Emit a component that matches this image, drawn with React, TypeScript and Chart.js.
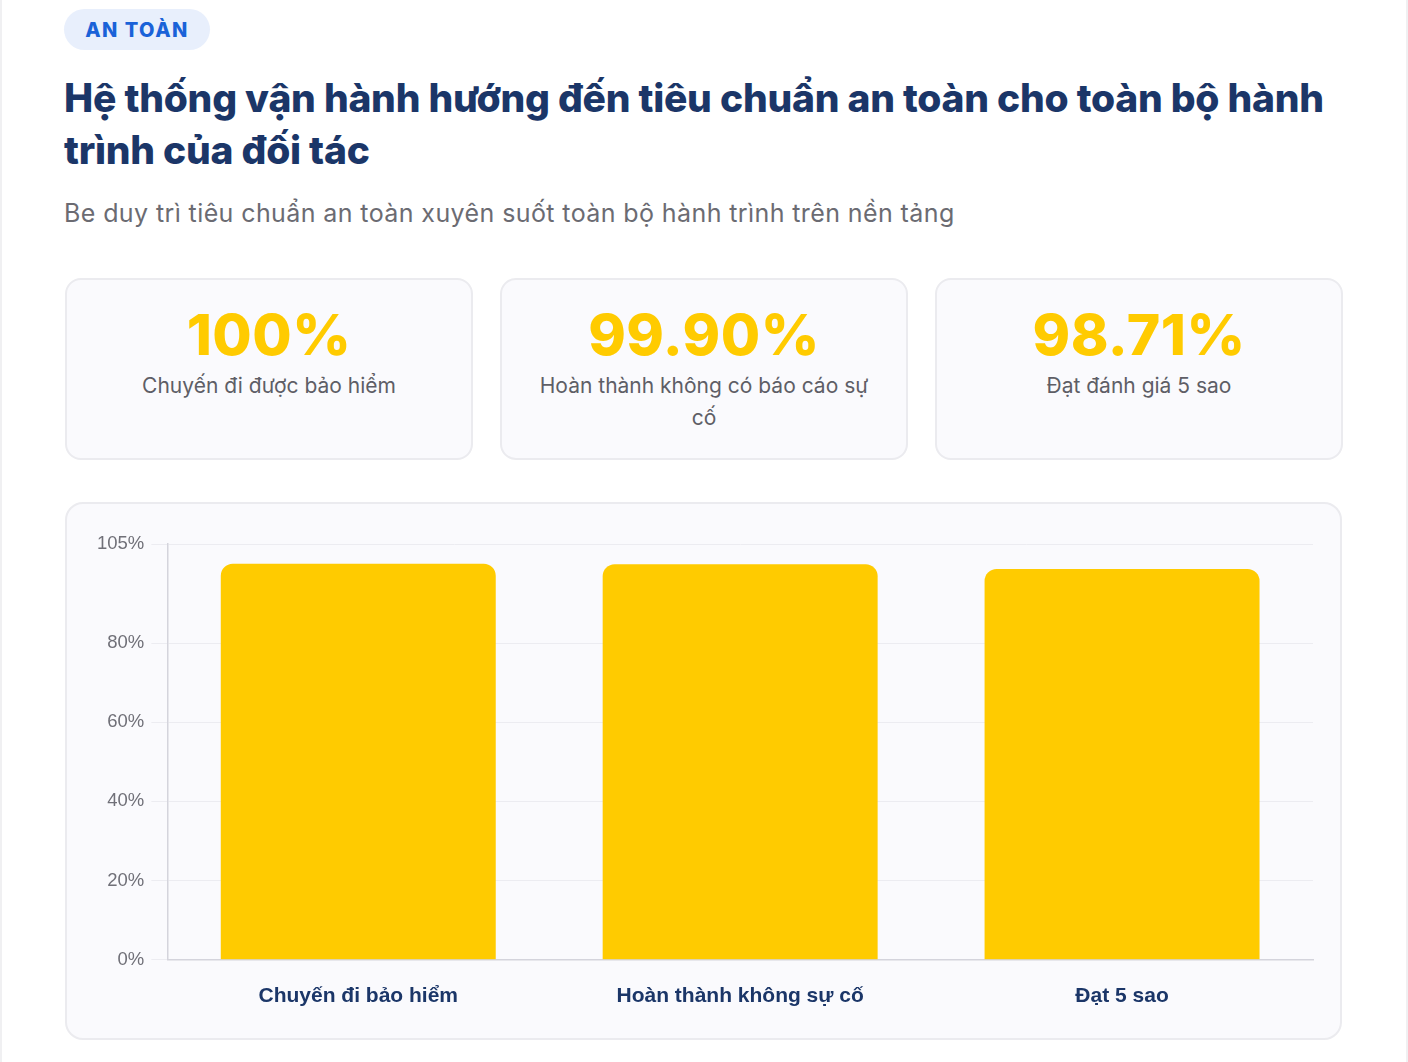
import React, { useEffect, useRef } from "react";
import { Chart, registerables } from "chart.js";

Chart.register(...registerables);

const badgeText = "AN TOÀN";
const titleLine1 = "Hệ thống vận hành hướng đến tiêu chuẩn an toàn cho toàn bộ hành";
const titleLine2 = "trình của đối tác";
const subtitle = "Be duy trì tiêu chuẩn an toàn xuyên suốt toàn bộ hành trình trên nền tảng";

const statValues = ["100%", "99.90%", "98.71%"];
const statLabels = ["Chuyến đi được bảo hiểm", "Hoàn thành không có báo cáo sự cố", "Đạt đánh giá 5 sao"];

const categories = ["Chuyến đi bảo hiểm", "Hoàn thành không sự cố", "Đạt 5 sao"];
const values = [100, 99.9, 98.71];
const yMin = 0;
const yMax = 105;
const yStep = 20;

const YELLOW = "#FFCB00";
const NAVY = "#1B3668";

function BarChart() {
  const ref = useRef<HTMLCanvasElement | null>(null);
  useEffect(() => {
    if (!ref.current) return;
    const chart = new Chart(ref.current, {
      type: "bar",
      data: {
        labels: categories,
        datasets: [
          {
            data: values,
            backgroundColor: YELLOW,
            borderRadius: { topLeft: 12, topRight: 12, bottomLeft: 0, bottomRight: 0 },
            borderSkipped: false,
          },
        ],
      },
      options: {
        animation: false,
        responsive: true,
        maintainAspectRatio: false,
        layout: { padding: { left: 23, top: 40, right: 27, bottom: 13 } },
        plugins: { legend: { display: false }, tooltip: { enabled: false } },
        scales: {
          x: {
            grid: { display: false },
            border: { display: true, color: "#d4d4dc", width: 1.5 },
            ticks: {
              color: NAVY,
              padding: 16,
              font: { family: "'Liberation Sans', Arial, sans-serif", size: 21, weight: "bold" },
            },
          },
          y: {
            min: yMin,
            max: yMax,
            ticks: {
              stepSize: yStep,
              color: "#707078",
              padding: 7,
              font: { family: "'Liberation Sans', Arial, sans-serif", size: 18.5 },
              callback: (v: any) => v + "%",
            },
            grid: { color: "#ececf1", tickLength: 16, lineWidth: 1 },
            border: { display: true, color: "#d4d4dc", width: 1.5 },
          },
        },
      },
    });
    return () => chart.destroy();
  }, []);
  return <canvas ref={ref} />;
}

export default function App() {
  useEffect(() => {
    document.body.style.margin = "0";
    document.body.style.background = "#ffffff";
  }, []);
  const font = "'Inter', 'Noto Sans', sans-serif";
  const cardStyle: React.CSSProperties = {
    position: "absolute",
    top: 278,
    width: 404,
    height: 178,
    border: "2px solid #ebebef",
    borderRadius: 16,
    background: "#fafafd",
    boxSizing: "content-box",
    textAlign: "center",
  };
  const lefts = [65, 500, 935];
  return (
    <div style={{ position: "relative", width: 1408, height: 1062, fontFamily: font, background: "#fff", boxShadow: "inset 2px 0 0 #f0f0f2, inset -2px 0 0 #f0f0f2" }}>
      <div
        style={{
          position: "absolute",
          left: 64,
          top: 9,
          width: 146,
          height: 41,
          borderRadius: 21,
          background: "#e8effc",
          color: "#1a62d8",
          fontWeight: 800,
          fontSize: 20,
          letterSpacing: 1.5,
          display: "flex",
          alignItems: "center",
          justifyContent: "center",
        }}
      >
        {badgeText}
      </div>
      <div
        style={{
          position: "absolute",
          left: 64,
          top: 72,
          width: 1320,
          color: NAVY,
          fontWeight: 800,
          fontSize: 39,
          lineHeight: "52px",
          letterSpacing: -0.25,
          whiteSpace: "nowrap",
        }}
      >
        {titleLine1}
        <br />
        {titleLine2}
      </div>
      <div style={{ position: "absolute", left: 64, top: 196, color: "#6b6b72", fontSize: 25, lineHeight: "34px", letterSpacing: 0.4, whiteSpace: "nowrap" }}>
        {subtitle}
      </div>
      {statValues.map((v, i) => (
        <div key={i} style={{ ...cardStyle, left: lefts[i] }}>
          <div style={{ marginTop: 22, color: YELLOW, fontWeight: 800, fontSize: 57, lineHeight: "66px", letterSpacing: 0.5 }}>{v}</div>
          <div style={{ margin: "2px auto 0", width: 350, color: "#5e5e66", fontSize: 21, lineHeight: "32px" }}>{statLabels[i]}</div>
        </div>
      ))}
      <div
        style={{
          position: "absolute",
          left: 65,
          top: 502,
          width: 1273,
          height: 534,
          border: "2px solid #ebebef",
          borderRadius: 18,
          background: "#fafafd",
        }}
      >
        <div style={{ position: "absolute", left: 0, top: 0, width: 1273, height: 534 }}>
          <BarChart />
        </div>
      </div>
    </div>
  );
}
